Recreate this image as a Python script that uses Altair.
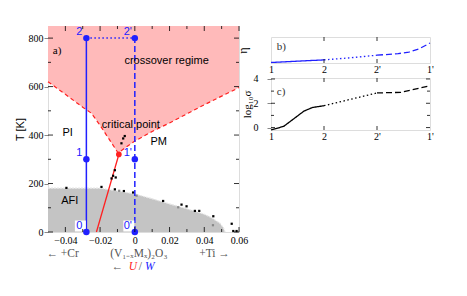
import altair as alt
import pandas as pd

SERIF = "Liberation Serif"
SANS = "Liberation Sans"
BLUE = "#2020ff"
RED = "#ff2020"
PINK = "#ffbaba"

# ---------------- panel a) data ----------------
cross_x = [-0.05, -0.04, -0.03, -0.025, -0.02, -0.015, -0.0096, -0.005, 0.0, 0.01, 0.02, 0.04, 0.06]
cross_T = [620, 568, 515, 490, 440, 385, 326, 350, 375, 415, 450, 525, 596]
T_top = 850

afi_x = [-0.05, -0.02, -0.01, 0.0, 0.01, 0.02, 0.03, 0.04, 0.044, 0.049, 0.051, 0.052]
afi_T = [181, 181, 169, 157, 137, 116, 96, 73, 60, 36, 18, 0]

exp_x = [-0.0394, -0.0192, -0.0115, -0.0063, -0.001, 0.0163, 0.0269, 0.0298, 0.0346, 0.0371,
         0.0452, 0.0558, 0.0567, 0.0586,
         -0.0134, -0.0115, -0.011, -0.0125, -0.0077, -0.0067, -0.0058]
exp_T = [182, 186, 176, 169, 163, 128, 113, 106, 87, 87,
         65, 34, 4, 4,
         221, 255, 225, 232, 366, 386, 396]
expg_x = [0.001, 0.025, 0.045, -0.009]
expg_T = [150, 102, 28, 170]

mit_x = [-0.0221, -0.0092]
mit_T = [0, 320]
crit_x = [-0.0092]
crit_T = [320]

pA = -0.0279
pB = 0.0
path_x = [pA, pA, pB, pB, pA, pB]
path_T = [0, 800, 0, 800, 800, 800]
path_seg = ["solid", "solid", "dashed", "dashed", "dotted", "dotted"]
path_ord = [0, 1, 0, 1, 0, 1]

pt_x = [pA, pA, pA, pB, pB, pB]
pt_T = [0, 300, 800, 0, 300, 800]
pt_lab = ["0", "1", "2", "0'", "1'", "2'"]

ann_text = ["crossover regime", "critical point", "PI", "PM", "AFI"]
ann_x = [0.0183, -0.0023, -0.0387, 0.0138, -0.0375]
ann_T = [706, 441, 408, 371, 127]

bottom_text = ["\u2190 +Cr", "(V\u2081\u208B\u2093M\u2093)\u2082O\u2083", "+Ti \u2192"]
bottom_x = [-0.0416, 0.0023, 0.0459]
bottom_T = [-90, -90, -90]
uw_T = -145

x_major = [-0.04, -0.02, 0.0, 0.02, 0.04, 0.06]
x_minor = [-0.03, -0.01, 0.01, 0.03, 0.05]
y_major = [0, 200, 400, 600, 800]
y_minor = [100, 300, 500, 700]

# ---------------- panels b), c) data ----------------
cat_labels = ["1", "2", "2'", "1'"]
eta_solid_x = [0, 1]
eta_solid = [0.02, 0.12]
eta_dot_x = [1, 1.5, 2]
eta_dot = [0.12, 0.2, 0.3]
eta_dash_x = [2, 2.4, 2.6, 2.8, 3]
eta_dash = [0.3, 0.36, 0.42, 0.55, 0.77]

sig_solid_x = [0, 0.24, 0.62, 0.78, 1]
sig_solid = [-0.2, 0.1, 1.35, 1.65, 1.8]
sig_dot_x = [1, 2]
sig_dot = [1.8, 2.85]
sig_dash_x = [2, 2.45, 3]
sig_dash = [2.85, 2.9, 3.45]

# ---------------- panel a) chart ----------------
W, H = 191, 206
xs = alt.Scale(domain=[-0.05, 0.06], nice=False, zero=False)
ys = alt.Scale(domain=[0, T_top], nice=False, zero=False)
xax = alt.Axis(values=x_major, labelExpr="datum.value == 0 ? '0' : format(datum.value, '.2f')",
               ticks=False, domain=False, grid=False, labelPadding=3, labelFont=SERIF,
               labelFontSize=10, labelColor="black", title=None, labelFlush=False)
yax = alt.Axis(values=y_major, ticks=True, tickSize=4, domain=False, grid=False, labelPadding=1,
               labelFont=SERIF, labelFontSize=10, labelColor="black", title="T [K]",
               titleFont=SANS, titleFontSize=11, titleFontWeight="normal", titlePadding=3)


def X(f="x"):
    return alt.X(f"{f}:Q", scale=xs, axis=xax)


def Y(f="T"):
    return alt.Y(f"{f}:Q", scale=ys, axis=yax)


cross_df = pd.DataFrame({"x": cross_x, "T": cross_T, "top": [T_top] * len(cross_x)})
afi_df = pd.DataFrame({"x": afi_x, "T": afi_T, "bot": [0] * len(afi_x)})

layers = []
layers.append(alt.Chart(cross_df).mark_area(color=PINK, opacity=1).encode(
    x=X(), y=Y(), y2="top:Q"))
layers.append(alt.Chart(cross_df).mark_line(color=RED, strokeDash=[4, 3], strokeWidth=1.2).encode(
    x=X(), y=Y()))
layers.append(alt.Chart(afi_df).mark_area(color="#c4c4c4", opacity=1).encode(
    x=X(), y=Y(), y2="bot:Q"))
layers.append(alt.Chart(afi_df).mark_line(color="#e6e6e6", strokeWidth=1.2, strokeDash=[2, 1]).encode(
    x=X(), y=Y()))
layers.append(alt.Chart(pd.DataFrame({"x": expg_x, "T": expg_T})).mark_square(
    color="#888888", size=5, opacity=1).encode(x=X(), y=Y()))
layers.append(alt.Chart(pd.DataFrame({"x": mit_x, "T": mit_T})).mark_line(
    color=RED, strokeWidth=1.3).encode(x=X(), y=Y()))
layers.append(alt.Chart(pd.DataFrame({"x": exp_x, "T": exp_T})).mark_square(
    color="black", size=5, opacity=1).encode(x=X(), y=Y()))
layers.append(alt.Chart(pd.DataFrame({"x": crit_x, "T": crit_T})).mark_circle(
    color=RED, size=32, opacity=1).encode(x=X(), y=Y()))

path_df = pd.DataFrame({"x": path_x, "T": path_T, "seg": path_seg, "o": path_ord})
layers.append(alt.Chart(path_df).mark_line(color=BLUE, strokeWidth=1.5).encode(
    x=X(), y=Y(), detail="seg:N", order="o:Q",
    strokeDash=alt.StrokeDash("seg:N", scale=alt.Scale(domain=["solid", "dashed", "dotted"],
                                                        range=[[1, 0], [6, 3], [1.5, 2.5]]),
                              legend=None)))

pt_df = pd.DataFrame({"x": pt_x, "T": pt_T, "lab": pt_lab})
layers.append(alt.Chart(pt_df).transform_filter("datum.T == 0").mark_square(
    color="white", size=120, opacity=1, xOffset=-6, yOffset=-6).encode(x=X(), y=Y()))
layers.append(alt.Chart(pt_df).mark_circle(color=BLUE, size=42, opacity=1).encode(x=X(), y=Y()))
layers.append(alt.Chart(pt_df).mark_text(color=BLUE, font=SANS, fontSize=11, dx=-7, dy=-6,
                                         align="center", baseline="middle").encode(
    x=X(), y=Y(), text="lab:N"))

ann_df = pd.DataFrame({"x": ann_x, "T": ann_T, "t": ann_text})
layers.append(alt.Chart(ann_df).mark_text(color="black", font=SANS, fontSize=11,
                                          align="center", baseline="middle").encode(
    x=X(), y=Y(), text="t:N"))
layers.append(alt.Chart(pd.DataFrame({"x": [-0.0472], "T": [748], "t": ["a)"]})).mark_text(
    color="black", font=SERIF, fontSize=11, align="left", baseline="middle").encode(
    x=X(), y=Y(), text="t:N"))

bot_df = pd.DataFrame({"x": bottom_x, "T": bottom_T, "t": bottom_text})
layers.append(alt.Chart(bot_df).mark_text(color="#555555", font=SERIF, fontSize=11.5,
                                          align="center", baseline="middle").encode(
    x=X(), y=Y(), text="t:N"))
uw_x = [-0.0135, 0.0022]
uw_t = ["\u2190", "/"]
layers.append(alt.Chart(pd.DataFrame({"x": uw_x, "T": [uw_T, uw_T], "t": uw_t})).mark_text(
    color="#555555", font=SERIF, fontSize=11.5, align="left", baseline="middle").encode(
    x=X(), y=Y(), text="t:N"))
layers.append(alt.Chart(pd.DataFrame({"x": [-0.0035], "T": [uw_T], "t": ["U"]})).mark_text(
    color=RED, font=SERIF, fontSize=11.5, fontStyle="italic", align="left", baseline="middle").encode(
    x=X(), y=Y(), text="t:N"))
layers.append(alt.Chart(pd.DataFrame({"x": [0.0058], "T": [uw_T], "t": ["W"]})).mark_text(
    color=BLUE, font=SERIF, fontSize=11.5, fontStyle="italic", align="left", baseline="middle").encode(
    x=X(), y=Y(), text="t:N"))

# inward ticks on all four sides
for vals, ln in [(x_major, 5), (x_minor, 3)]:
    d = pd.DataFrame({"x": vals})
    layers.append(alt.Chart(d).mark_rule(color="black", strokeWidth=0.8).encode(
        x=X(), y=alt.value(H), y2=alt.value(H - ln)))
    layers.append(alt.Chart(d).mark_rule(color="black", strokeWidth=0.8).encode(
        x=X(), y=alt.value(0), y2=alt.value(ln)))
for vals, ln in [(y_major, 5), (y_minor, 3)]:
    d = pd.DataFrame({"T": vals})
    layers.append(alt.Chart(d).mark_rule(color="black", strokeWidth=0.8).encode(
        y=Y(), x=alt.value(0), x2=alt.value(ln)))
    layers.append(alt.Chart(d).mark_rule(color="black", strokeWidth=0.8).encode(
        y=Y(), x=alt.value(W), x2=alt.value(W - ln)))

main = alt.layer(*layers).properties(width=W, height=H)

# ---------------- panels b) and c) ----------------
PW = 159
cs = alt.Scale(domain=[0, 3], nice=False, zero=False)
cax = alt.Axis(values=[0, 1, 2, 3], labelExpr="['1','2',\"2'\",\"1'\"][datum.value]",
               ticks=False, domain=False, grid=False, labelPadding=1, labelFont=SERIF,
               labelFontSize=10, labelColor="black", title=None, labelFlush=False)
dash_scale = alt.Scale(domain=["solid", "dotted", "dashed"], range=[[1, 0], [1.2, 2.2], [5, 3]])


def seg_df(parts, yname):
    rows = []
    for name, xx, yy in parts:
        for a, b in zip(xx, yy):
            rows.append({"x": a, yname: b, "seg": name})
    return pd.DataFrame(rows)


def side_panel(df, yname, yscale, yaxis, color, label, label_y, h, ymaj, ymin):
    Xc = alt.X("x:Q", scale=cs, axis=cax)
    Yc = alt.Y(f"{yname}:Q", scale=yscale, axis=yaxis)
    ls = [alt.Chart(df).mark_line(color=color, strokeWidth=1.3).encode(
        x=Xc, y=Yc, detail="seg:N", order="x:Q",
        strokeDash=alt.StrokeDash("seg:N", scale=dash_scale, legend=None))]
    ls.append(alt.Chart(pd.DataFrame({"x": [0.11], yname: [label_y], "t": [label]})).mark_text(
        font=SERIF, fontSize=11, color="#333333", align="left", baseline="middle").encode(
        x=Xc, y=Yc, text="t:N"))
    dx = pd.DataFrame({"x": [1, 2]})
    ls.append(alt.Chart(dx).mark_rule(color="black", strokeWidth=0.8).encode(
        x=Xc, y=alt.value(h), y2=alt.value(h - 4)))
    ls.append(alt.Chart(dx).mark_rule(color="black", strokeWidth=0.8).encode(
        x=Xc, y=alt.value(0), y2=alt.value(4)))
    for vals, ln in [(ymaj, 4), (ymin, 3)]:
        if vals:
            dy = pd.DataFrame({yname: vals})
            ls.append(alt.Chart(dy).mark_rule(color="black", strokeWidth=0.8).encode(
                y=Yc, x=alt.value(0), x2=alt.value(ln)))
            ls.append(alt.Chart(dy).mark_rule(color="black", strokeWidth=0.8).encode(
                y=Yc, x=alt.value(PW), x2=alt.value(PW - ln)))
    return ls


eta_df = seg_df([("solid", eta_solid_x, eta_solid), ("dotted", eta_dot_x, eta_dot),
                 ("dashed", eta_dash_x, eta_dash)], "eta")
sig_df = seg_df([("solid", sig_solid_x, sig_solid), ("dotted", sig_dot_x, sig_dot),
                 ("dashed", sig_dash_x, sig_dash)], "sig")

eta_axis = alt.Axis(labels=False, ticks=False, domain=False, grid=False, title="\u03b7",
                    titleFont=SERIF, titleFontSize=12, titleFontWeight="normal", titlePadding=22)
sig_axis = alt.Axis(values=[0, 2, 4], ticks=True, tickSize=4, domain=False, grid=False,
                    labelPadding=9, labelFont=SERIF, labelFontSize=10, labelColor="black",
                    title="log\u2081\u2080\u03c3", titleFont=SERIF, titleFontSize=11,
                    titleFontWeight="normal", titlePadding=1)

panel_b = alt.layer(*side_panel(eta_df, "eta", alt.Scale(domain=[0, 1], nice=False, zero=False),
                                eta_axis, BLUE, "b)", 0.61, 26, [], [])).properties(
    width=PW, height=26)
panel_c = alt.layer(*side_panel(sig_df, "sig", alt.Scale(domain=[-0.2, 4.08], nice=False, zero=False),
                                sig_axis, "black", "c)", 2.89, 52, [0, 2, 4], [1, 3])).properties(
    width=PW, height=52)

spacer = alt.Chart(pd.DataFrame({"a": [0]})).mark_rule(opacity=0).encode(
    x=alt.value(2), x2=alt.value(4), y=alt.value(4)).properties(
    width=PW, height=10, view=alt.ViewBackground(stroke="transparent"))

right = alt.vconcat(spacer, panel_b, panel_c, spacing=-2)

chart = alt.hconcat(main, right, spacing=-14).properties(
    padding={"left": 5, "top": 17, "right": 0, "bottom": 0}
).configure_view(stroke="black", strokeWidth=1).configure(background="white")

chart.save("out.html", embed_options={"renderer": "svg", "actions": False})
